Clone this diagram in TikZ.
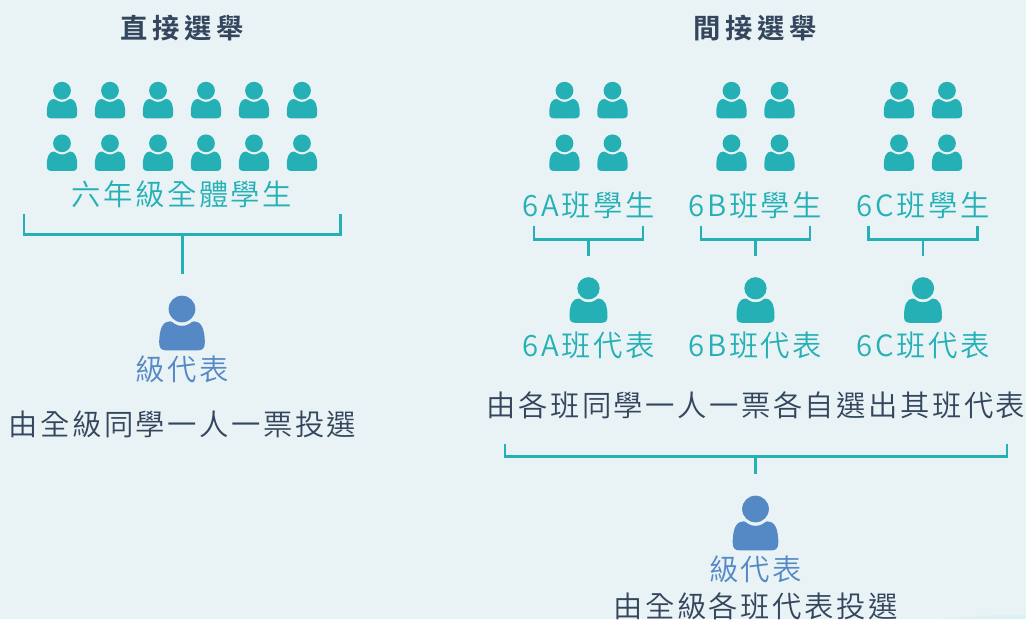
\documentclass[tikz,border=0pt]{standalone}
\usepackage{fontspec}
\usetikzlibrary{calc}
\newfontfamily\cjklabel[LetterSpace=8.5]{Noto Sans CJK TC DemiLight}
\newfontfamily\cjktitle[LetterSpace=17]{Noto Sans CJK TC Bold}
\definecolor{pagebg}{HTML}{E9F3F5}
\definecolor{teal}{HTML}{25B0B5}
\definecolor{repblue}{HTML}{5589C6}
\definecolor{inkdark}{HTML}{34465E}
\tikzset{
  pics/person/.style={code={
    \fill (0,0) circle (8.9);
    \fill (-10.5,27.6) .. controls (-14,27.6) and (-15.2,25.8) .. (-15.2,22.5)
      .. controls (-15.2,12.5) and (-12.5,8.2) .. (-8,8.2)
      .. controls (-6,8.2) and (-5,11.2) .. (0,11.2)
      .. controls (5,11.2) and (6,8.2) .. (8,8.2)
      .. controls (12.5,8.2) and (15.2,12.5) .. (15.2,22.5)
      .. controls (15.2,25.8) and (14,27.6) .. (10.5,27.6) -- cycle;
  }}
}
\begin{document}
\begin{tikzpicture}[x=0.75pt,y=-0.75pt]
  \tikzstyle{grouplabel}=[inner sep=0pt,text=teal,font={\fontsize{22pt}{24pt}\selectfont\cjklabel}]
  \tikzstyle{replabel}=[inner sep=0pt,text=repblue,font={\fontsize{22pt}{24pt}\selectfont\cjklabel}]
  \tikzstyle{note}=[inner sep=0pt,text=inkdark,font={\fontsize{22pt}{24pt}\selectfont\cjklabel}]
  \tikzstyle{heading}=[inner sep=0pt,text=inkdark,font={\fontsize{20.5pt}{24pt}\selectfont\cjktitle}]
  \tikzstyle{bracket}=[draw=teal,line width=2pt]
  \useasboundingbox (0,0) rectangle (1026,619);
  \fill[pagebg] (0,0) rectangle (1026,619);
  \fill[white!40!pagebg!90!teal] (940,619) .. controls (970,616) and (1000,615) .. (1026,614.5) -- (1026,619) -- cycle;
  % direct
  \node[heading] (direct) at (182,28) {直接選舉};
  \foreach \px in {62,110,158,206,254,302}{
    \pic[teal] at (\px,90.7) {person};
    \pic[teal] at (\px,143.3) {person};
  }
  \node[grouplabel] (allstudents) at (182,194) {六年級全體學生};
  \coordinate (all_l) at (24,214);
  \coordinate (all_r) at (340.3,214);
  \coordinate (all_t) at (182.2,234.3);
  \coordinate (all_b) at (182.2,274);
  \draw[bracket] (all_l) -- ++(0,20.3) -| (all_r);
  \draw[bracket] (all_t) -- (all_b);
  \pic[repblue,scale=1.5] at (182,309) {person};
  \node[replabel] (rep_direct) at (182,369) {級代表};
  \node[note] (note_direct) at (182.5,424) {由全級同學一人一票投選};
  % indirect
  \node[heading] (indirect) at (755,28) {間接選舉};
  \foreach \cls/\cx in {A/588.5,B/755.5,C/923}{
    \foreach \dx in {-24,24}{
      \pic[teal] at (\cx+\dx,90.7) {person};
      \pic[teal] at (\cx+\dx,143.3) {person};
    }
    \node[grouplabel] (class\cls) at (\cx,205) {6\cls 班學生};
    \coordinate (br\cls_l) at (\cx-54.5,226);
    \coordinate (br\cls_r) at (\cx+54.5,226);
    \coordinate (br\cls_t) at (\cx,239.3);
    \coordinate (br\cls_b) at (\cx,256);
    \draw[bracket] (br\cls_l) -- ++(0,13.3) -| (br\cls_r);
    \draw[bracket] (br\cls_t) -- (br\cls_b);
    \pic[teal,scale=1.25] at (\cx,288.3) {person};
    \node[grouplabel] (rep\cls) at (\cx,345) {6\cls 班代表};
  }
  \node[note] (note_class) at (756,405) {由各班同學一人一票各自選出其班代表};
  \coordinate (grade_l) at (505,444);
  \coordinate (grade_r) at (1007,444);
  \coordinate (grade_t) at (755.5,456.5);
  \coordinate (grade_b) at (755.5,474);
  \draw[bracket] (grade_l) -- ++(0,12.5) -| (grade_r);
  \draw[bracket] (grade_t) -- (grade_b);
  \pic[repblue,scale=1.5] at (755.5,509) {person};
  \node[replabel] (rep_indirect) at (755.5,569) {級代表};
  \node[note] (note_indirect) at (755.5,606) {由全級各班代表投選};
\end{tikzpicture}
\end{document}
